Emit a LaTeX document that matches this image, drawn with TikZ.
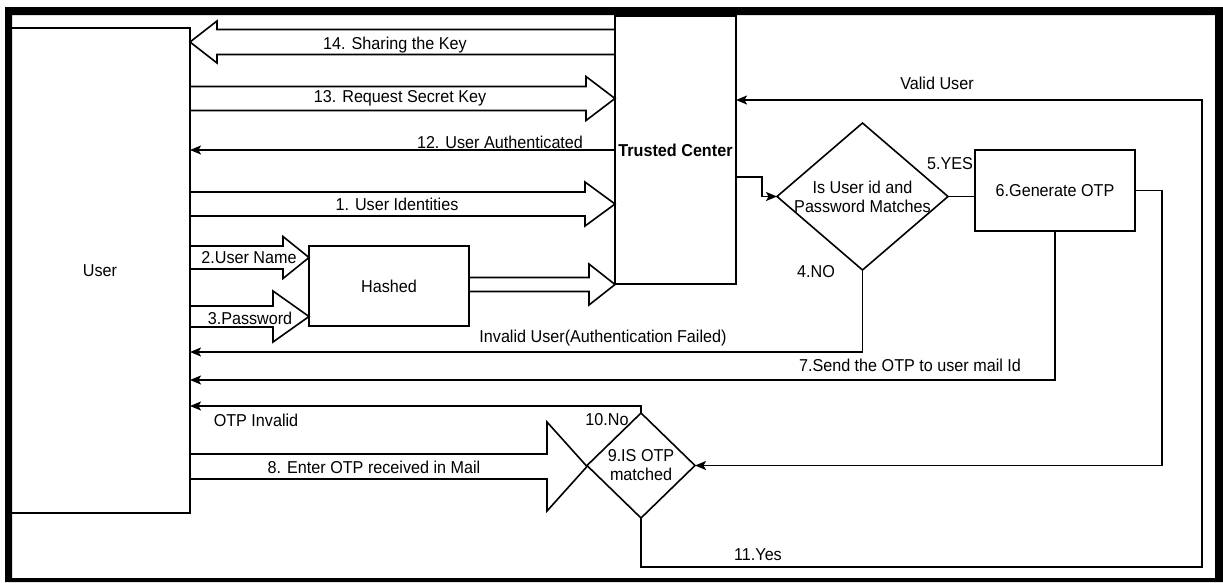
\documentclass[tikz,border=0pt]{standalone}
\usepackage{fontspec}
\setmainfont{Liberation Sans}[FakeStretch=0.94]
\usetikzlibrary{shapes.geometric,arrows.meta,calc}
\newcommand\rblk[6]{% from, tip, head length, y centre, shaft half, head half
  \draw[blk] let \p1=(#1), \p2=(#2), \p3=(0,#4-#5), \p4=(0,#4+#5),
      \p5=(0,#4-#6), \p6=(0,#4+#6), \p7=(0,#4) in
    (\x1,\y3) -- (\x2-#3pt,\y3) -- (\x2-#3pt,\y5) -- (\x2,\y7)
    -- (\x2-#3pt,\y6) -- (\x2-#3pt,\y4) -- (\x1,\y4) -- cycle;}
\newcommand\lblk[6]{% tail, tip, head length, y centre, shaft half, head half
  \draw[blk] let \p1=(#1), \p2=(#2), \p3=(0,#4-#5), \p4=(0,#4+#5),
      \p5=(0,#4-#6), \p6=(0,#4+#6), \p7=(0,#4) in
    (\x1,\y3) -- (\x2+#3pt,\y3) -- (\x2+#3pt,\y5) -- (\x2,\y7)
    -- (\x2+#3pt,\y6) -- (\x2+#3pt,\y4) -- (\x1,\y4) -- cycle;}
\begin{document}
\begin{tikzpicture}[x=1pt,y=-1pt,
  every node/.style={font=\fontsize{17.2}{19}\selectfont},
  box/.style={draw, line width=1.6pt, rectangle, inner sep=0pt, outer sep=0pt},
  dia/.style={draw, line width=1.6pt, diamond, inner sep=0pt, outer sep=0pt},
  blk/.style={draw, line width=1.6pt, fill=white, line join=miter},
  conn/.style={draw, line width=1.6pt, -{Stealth[length=11pt,width=9pt,inset=2.5pt]}},
  plain/.style={draw, line width=1.6pt},
  lbl/.style={inner sep=0pt, align=center}
]
\useasboundingbox[fill=white] (0,0) rectangle (1223,582);

% main boxes
\node[box, minimum width=180pt, minimum height=485pt] (user) at (100,270.5) {User};
\node[box, minimum width=121pt, minimum height=268pt] (tc) at (675.5,150) {\bfseries Trusted Center};
\node[box, minimum width=160pt, minimum height=80pt] (hash) at (389,286) {Hashed};
\node[box, minimum width=160pt, minimum height=81pt] (gen) at (1055,190.5) {6.Generate OTP};
\node[dia, minimum width=171pt, minimum height=147pt,
  label={[lbl]center:Is User id and\\Password Matches}] (d1) at (862.5,196.5) {};
\node[dia, minimum width=108pt, minimum height=105pt,
  label={[lbl]center:9.IS OTP\\matched}] (d2) at (641,465.5) {};

% block arrows
\lblk{tc.west}{user.east}{27}{42}{12.5}{21}
\rblk{user.east}{tc.west}{29}{98.5}{12}{22}
\rblk{user.east}{tc.west}{30}{204}{12}{22}
\rblk{user.east}{hash.west}{26}{257.5}{11.5}{21}
\rblk{user.east}{hash.west}{36}{316.5}{10.5}{25.5}
\rblk{hash.east}{tc.south west}{26}{284.5}{7}{20.5}
\rblk{user.east}{d2.west}{40}{466.5}{12.5}{44.5}

\node[lbl] (l14) at (395,45) {14. Sharing the Key};
\node[lbl] (l13) at (400,98.5) {13. Request Secret Key};
\node[lbl] (l1) at (397,204) {1. User Identities};
\node[lbl] (l2) at (249,258) {2.User Name};
\node[lbl] (l3) at (250,318) {3.Password};
\node[lbl] (l8) at (374,467) {8. Enter OTP received in Mail};

% named bend points
\coordinate (tcout) at (736,177);
\coordinate (tcin) at (736,100);
\coordinate (rt) at (1202,567);
\coordinate (gr) at (1162,0);
\coordinate (invy) at (0,352);
\coordinate (sendy) at (0,380);
\coordinate (noy) at (0,406);

% thin connectors
\draw[conn] (tc.west) -- (tc.west -| user.east);
\draw[conn] (tcout) -- ++(26,0) |- (d1.west);
\draw[plain] (d1.east) -- (d1.east -| gen.west);
\draw[conn] (d1.south) |- (user.east |- invy);
\draw[conn] (gen.south) |- (user.east |- sendy);
\draw[conn] (gen.east) -- (gen.east -| gr) |- (d2.east);
\draw[conn] (d2.north) |- (user.east |- noy);
\draw[conn] (d2.south) |- (rt) |- (tcin);

% connector labels
\node[lbl] (l12) at (500,142) {12. User Authenticated};
\node[lbl] (lvalid) at (937,83) {Valid User};
\node[lbl] (lyes5) at (950,164) {5.YES};
\node[lbl] (lno4) at (816,272) {4.NO};
\node[lbl] (linv) at (603,338) {Invalid User(Authentication Failed)};
\node[lbl] (l7) at (910,365) {7.Send the OTP to user mail Id};
\node[lbl] (lotpinv) at (256,420) {OTP Invalid};
\node[lbl] (l10) at (607,420) {10.No};
\node[lbl] (l11) at (758,555) {11.Yes};

% outer frame
\fill[black, even odd rule] (5,7) rectangle (1223,582) (12,15) rectangle (1215,578);
\end{tikzpicture}
\end{document}
